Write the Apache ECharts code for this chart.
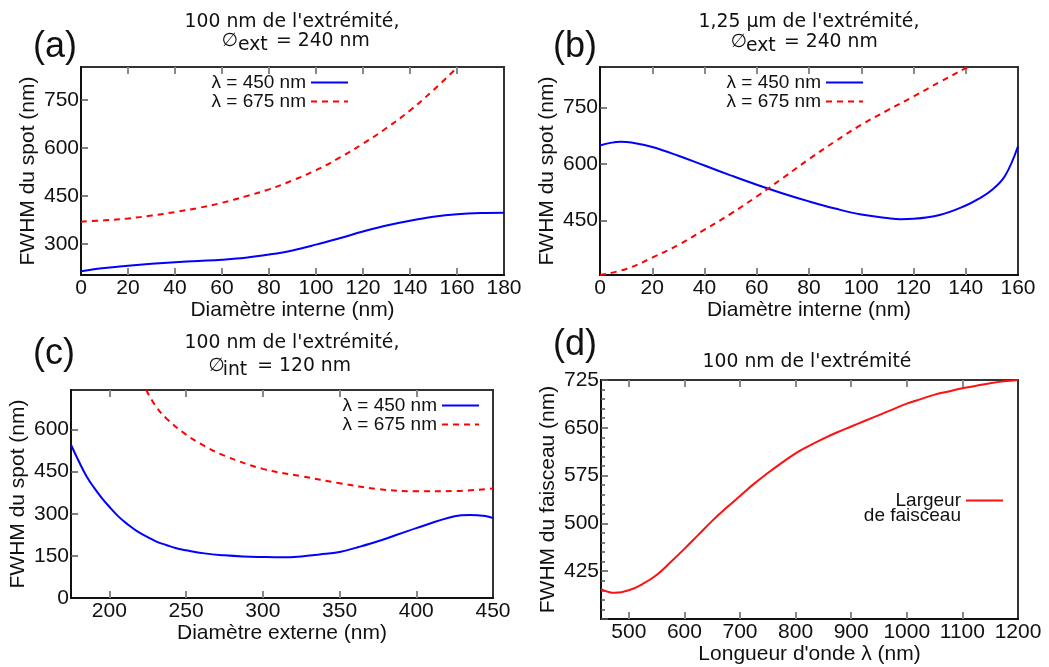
<!DOCTYPE html>
<html><head><meta charset="utf-8">
<script src="https://cdn.jsdelivr.net/npm/echarts@6/dist/echarts.min.js"></script>
<style>html,body{margin:0;padding:0;background:#fff}#c{width:1049px;height:667px}</style>
</head><body><div id="c"></div>
<script>
// ---------- Panel (a): 100 nm de l'extrémité, Øext = 240 nm ----------
const aDiam450 = [0,10,20,30,40,50,60,70,80,90,100,110,120,130,140,150,160,170,180];
const aFwhm450 = [215,225,232,238,243,247,251,257,267,280,298,318,339,358,373,385,393,397,398];
const aDiam675 = [0,10,20,30,40,50,60,70,80,90,100,110,120,130,140,150,160];
const aFwhm675 = [370,374,380,389,400,413,429,449,471,499,531,570,614,663,718,782,852];
const aXTickLabels = [0,20,40,60,80,100,120,140,160,180];
const aYTickLabels = [300,450,600,750];

// ---------- Panel (b): 1,25 µm de l'extrémité, Øext = 240 nm ----------
const bDiam450 = [0,4,8,12,20,30,40,50,60,70,80,90,100,110,115,120,130,140,145,150,155,160];
const bFwhm450 = [649,656,659,657,645,622,596,570,545,522,501,482,466,457,454,455,465,490,508,531,568,647];
const bDiam675 = [0,10,20,30,40,50,60,70,80,90,100,110,120,130,140,141];
const bFwhm675 = [306,322,352,386,426,468,514,563,613,660,704,742,779,817,854,857];
const bXTickLabels = [0,20,40,60,80,100,120,140,160];
const bYTickLabels = [450,600,750];

// ---------- Panel (c): 100 nm de l'extrémité, Øint = 120 nm ----------
const cDiam450 = [175,180,185,190,195,200,206,212,218,225,231,237,243,250,262,275,287,300,312,325,337,350,362,375,400,425,435,445,450];
const cFwhm450 = [546,488,435,393,357,325,290,262,238,217,200,189,178,170,159,152,148,146,145,148,155,164,181,202,249,291,296,292,285];
const cDiam675 = [224,230,237.5,250,262.5,275,300,325,350,375,400,425,450];
const cFwhm675 = [741,685,638,582,540,507,460,434,409,388,380,381,390];
const cXTickLabels = [200,250,300,350,400,450];
const cYTickLabels = [0,150,300,450,600];

// ---------- Panel (d): 100 nm de l'extrémité ----------
const dLambda = [450,475,500,525,550,575,600,625,650,675,700,725,750,775,800,825,850,875,900,925,950,975,1000,1025,1050,1075,1100,1125,1150,1175,1200];
const dLargeur = [397,391,395,405,419,439,460,482,504,524,543,562,579,595,610,622,633,643,652,661,670,679,688,695,702,707,712,716,720,723,725];
const dXTickLabels = [500,600,700,800,900,1000,1100,1200];
const dYTickLabels = [425,500,575,650,725];

const zip = (xs, ys) => xs.map((x, i) => [x, ys[i]]);
const SANS = 'Liberation Sans';
const TITLE = 'DejaVu Sans';
const INK = '#111';
const plain = v => String(v);

const grids = [
  {left:81, top:67, width:423, height:208},
  {left:600, top:67, width:418, height:208},
  {left:71, top:390, width:422, height:208},
  {left:601, top:380, width:417, height:239}
].map(g => Object.assign(g, {show:true, borderColor:'#333', borderWidth:2, backgroundColor:'transparent'}));

function inner(vals, min, max) { return vals.filter(v => v > min && v < max); }

function xAxes(gi, min, max, labels, name) {
  const ticks = inner(labels, min, max);
  return [
    {type:'value', gridIndex:gi, min, max, position:'bottom',
     name, nameLocation:'middle', nameGap:25,
     nameTextStyle:{fontFamily:SANS, fontSize:21, color:INK},
     axisLine:{show:true, lineStyle:{color:INK, width:2}},
     axisTick:{show:true, inside:true, length:7, customValues:ticks, lineStyle:{color:'#888', width:2}},
     axisLabel:{show:true, customValues:labels, margin:3, fontFamily:SANS, fontSize:21, color:INK, formatter:plain},
     splitLine:{show:false}},
    {type:'value', gridIndex:gi, min, max, position:'top',
     axisLine:{show:false},
     axisTick:{show:true, inside:true, length:7, customValues:ticks, lineStyle:{color:'#888', width:2}},
     axisLabel:{show:false}, splitLine:{show:false}}
  ];
}

function yAxis(gi, min, max, labels, name) {
  const ticks = inner(labels, min, max);
  return {type:'value', gridIndex:gi, min, max, position:'left',
    name, nameLocation:'middle', nameGap:42,
    nameTextStyle:{fontFamily:SANS, fontSize:21, color:INK},
    axisLine:{show:true, lineStyle:{color:INK, width:2}},
    axisTick:{show:true, inside:true, length:7, customValues:ticks, lineStyle:{color:'#555', width:1.5}},
    axisLabel:{show:true, customValues:labels, margin:2, fontFamily:SANS, fontSize:21, color:INK, formatter:plain},
    splitLine:{show:false}};
}

const yD = yAxis(3, 350, 725, dYTickLabels, 'FWHM du faisceau (nm)');
yD.interval = 75;
yD.axisTick = {show:true, inside:true, length:7, lineStyle:{color:'#555', width:1.5}};
yD.minorTick = {show:true, splitNumber:5, length:4, lineStyle:{color:'#555', width:1.5}};

const xAxisList = [].concat(
  xAxes(0, 0, 180, aXTickLabels, 'Diamètre interne (nm)'),
  xAxes(1, 0, 160, bXTickLabels, 'Diamètre interne (nm)'),
  xAxes(2, 175, 450, cXTickLabels, 'Diamètre externe (nm)'),
  xAxes(3, 450, 1200, dXTickLabels, "Longueur d'onde λ (nm)")
);
const yAxisList = [
  yAxis(0, 203, 854, aYTickLabels, 'FWHM du spot (nm)'),
  yAxis(1, 306, 857, bYTickLabels, 'FWHM du spot (nm)'),
  yAxis(2, 0, 741, cYTickLabels, 'FWHM du spot (nm)'),
  yD
];

const BLUE = '#0000ff', RED = '#ff0000';
function line(name, xi, yi, data, color, dashed) {
  return {type:'line', name, xAxisIndex:xi, yAxisIndex:yi, data,
    symbol:'none', smooth:0.4, clip:true,
    lineStyle:{color, width:2, type: dashed ? [6,5] : 'solid'},
    itemStyle:{color}};
}
const L450 = 'λ = 450 nm', L675 = 'λ = 675 nm';
const series = [
  line(L450, 0, 0, zip(aDiam450, aFwhm450), BLUE, false),
  line(L675, 0, 0, zip(aDiam675, aFwhm675), RED, true),
  line(L450, 2, 1, zip(bDiam450, bFwhm450), BLUE, false),
  line(L675, 2, 1, zip(bDiam675, bFwhm675), RED, true),
  line(L450, 4, 2, zip(cDiam450, cFwhm450), BLUE, false),
  line(L675, 4, 2, zip(cDiam675, cFwhm675), RED, true),
  line('Largeur de faisceau', 6, 3, zip(dLambda, dLargeur), '#ff1010', false)
];

function legend(right, top, data, extra) {
  return Object.assign({show:true, orient:'vertical', right, top, padding:0, align:'right',
    itemWidth:37, itemHeight:2, itemGap:0, selectedMode:false, data,
    itemStyle:{opacity:0},
    textStyle:{fontFamily:SANS, fontSize:19, color:INK, lineHeight:16}}, extra || {});
}
const legends = [
  legend(700, 73, [L450, L675]),
  legend(185, 73, [L450, L675]),
  legend(569, 396, [L450, L675]),
  legend(45, 476, ['Largeur de faisceau'], {
    formatter: () => '\nLargeur\nde faisceau',
    textStyle:{fontFamily:SANS, fontSize:19, color:INK, lineHeight:15}
  })
];

function txt(x, y, text, size, family, align) {
  return {type:'text', x, y, silent:true,
    style:{text, fontSize:size, fontFamily:family, fill:INK,
      align, textAlign:align, verticalAlign:'middle', textVerticalAlign:'middle'}};
}
const TS = 18.8;
const graphics = [
  txt(33, 47, '(a)', 36, SANS, 'left'),
  txt(553, 47, '(b)', 36, SANS, 'left'),
  txt(33, 354, '(c)', 36, SANS, 'left'),
  txt(553, 345, '(d)', 36, SANS, 'left'),
  // (a) title
  txt(292, 22, "100 nm de l'extrémité,", TS, TITLE, 'center'),
  txt(221.5, 41.5, '∅', TS, TITLE, 'left'),
  txt(238, 45.5, 'ext', TS, TITLE, 'left'),
  txt(276, 41.5, '= 240 nm', TS, TITLE, 'left'),
  // (b) title
  txt(809, 22, "1,25 µm de l'extrémité,", TS, TITLE, 'center'),
  txt(730.5, 42.5, '∅', TS, TITLE, 'left'),
  txt(746, 46.5, 'ext', TS, TITLE, 'left'),
  txt(784, 42.5, '= 240 nm', TS, TITLE, 'left'),
  // (c) title
  txt(292, 343, "100 nm de l'extrémité,", TS, TITLE, 'center'),
  txt(208.3, 366, '∅', TS, TITLE, 'left'),
  txt(222.7, 370, 'int', TS, TITLE, 'left'),
  txt(257.3, 366, '= 120 nm', TS, TITLE, 'left'),
  // (d) title
  txt(807, 362, "100 nm de l'extrémité", TS, TITLE, 'center')
];

const chart = echarts.init(document.getElementById('c'), null, {renderer:'canvas'});
chart.setOption({
  animation:false,
  backgroundColor:'#fff',
  grid: grids,
  xAxis: xAxisList,
  yAxis: yAxisList,
  legend: legends,
  series,
  graphic: graphics
});
</script></body></html>
